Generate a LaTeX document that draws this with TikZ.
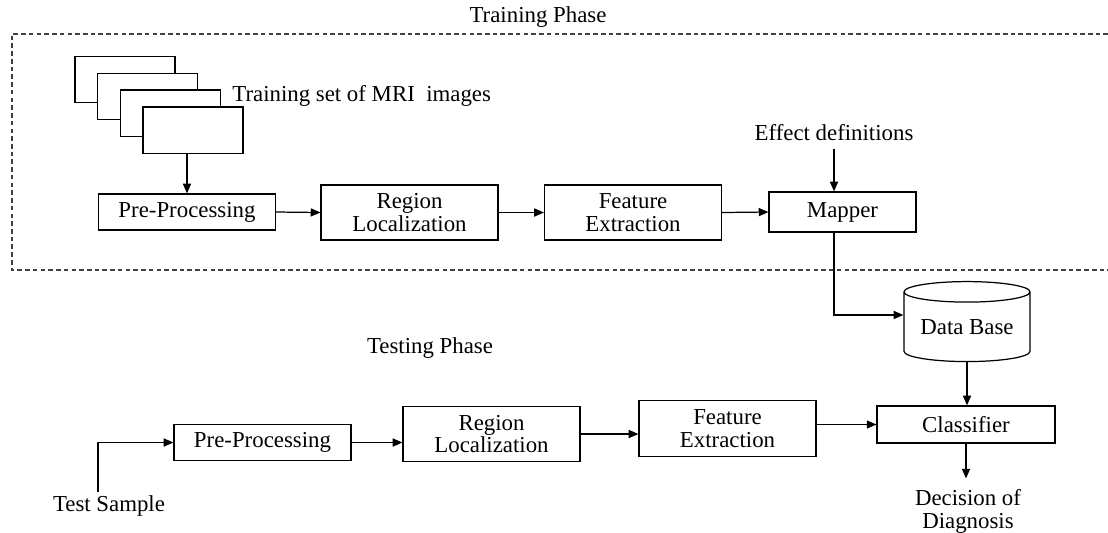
\documentclass[tikz,border=0pt]{standalone}
\usepackage{fontspec}
\setmainfont{Liberation Serif}
\usetikzlibrary{shapes.geometric, arrows.meta, positioning, calc}
\tikzset{
  blockB/.style={rectangle, draw, line width=0.7pt, fill=white, align=center,
                 inner sep=0pt, minimum width=3.54cm, minimum height=0.72cm},
  blockT/.style={blockB, minimum height=1.1cm},
  imgbox/.style={rectangle, draw, line width=0.7pt, fill=white,
                 minimum width=2cm, minimum height=0.93cm},
  dbase/.style={cylinder, shape border rotate=90, draw, line width=0.7pt,
                aspect=0.22, minimum width=2.52cm, minimum height=1.6cm,
                inner sep=0pt},
  arrow/.style={-{Triangle[length=5.5pt,width=4.6pt]}, line width=0.7pt},
  plain/.style={line width=0.7pt},
  phasebox/.style={dash pattern=on 2.6pt off 1.8pt, line width=0.6pt, draw=black!75},
  txt/.style={align=center, inner sep=0pt},
}

\begin{document}
\begin{tikzpicture}[x=0.02cm, y=-0.02cm,
  every node/.style={font=\fontsize{13}{13}\selectfont}]

  \useasboundingbox (0,0) rectangle (1108,532);

  % training phase frame
  \node[txt] (trainlbl) at (538,17) {Training Phase};
  \draw[phasebox] (1108,34) -- (12,34) -- (12,270) -- (1108,270);

  % stack of MRI images
  \foreach \i in {1,...,4}
    \node[imgbox] (img\i) at ({125+22.7*(\i-1)},{79.5+16.9*(\i-1)}) {};
  \node[txt, anchor=west] (imglbl) at (232,96) {Training set of MRI~~images};

  % training chain
  \node[blockB] (pp1) at (187,212) {Pre-Processing};
  \node[blockT] (rl1) at (409.5,212.5) {Region\\Localization};
  \node[blockT] (fe1) at (633,212.5) {Feature\\Extraction};
  \node[blockB, minimum width=2.94cm, minimum height=0.8cm] (mapper) at (842.5,212) {Mapper};
  \node[txt] (effdef) at (834,133) {Effect definitions};

  \draw[arrow] (pp1.north |- img4.south) -- (pp1.north);
  \draw[arrow] (pp1.east) -- (rl1.west);
  \draw[arrow] (rl1.east) -- (fe1.west);
  \draw[arrow] (fe1.east) -- (mapper.west);
  \draw[arrow] ([yshift=-4pt]effdef.south) -- (effdef.south |- mapper.north);

  % data base
  \node[dbase] (db) at (967,327) {Data Base};
  \draw[arrow] (effdef.south |- mapper.south) |- ([yshift=0.24cm]db.west);

  % testing phase
  \node[txt] (testlbl) at (430,348) {Testing Phase};
  \node[blockB] (pp2) at (262.5,442.5) {Pre-Processing};
  \node[blockT] (rl2) at (491.5,434) {Region\\Localization};
  \node[blockT, minimum height=1.13cm] (fe2) at (727.5,428.5) {Feature\\Extraction};
  \node[blockB, minimum width=3.56cm, minimum height=0.74cm] (cl) at (966,424.5) {Classifier};
  \node[txt] (testsmp) at (109,506) {Test Sample};
  \coordinate (tsin) at (98,492);
  \node[txt, anchor=north] (decision) at (968,489) {Decision of\\Diagnosis};

  \draw[arrow] (tsin) |- (pp2.west);
  \draw[arrow] (pp2.east) -- (pp2.east -| rl2.west);
  \draw[arrow] (rl2.east) -- (rl2.east -| fe2.west);
  \draw[arrow] (cl.west -| fe2.east) -- (cl.west);
  \draw[arrow] (db.south) -- (db.south |- cl.north);
  \draw[arrow] (cl.south) -- ([yshift=6pt]cl.south |- decision.north);

\end{tikzpicture}
\end{document}
